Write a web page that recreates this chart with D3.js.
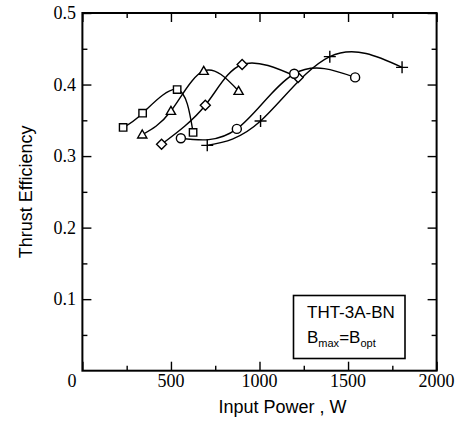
<!DOCTYPE html>
<html>
<head>
<meta charset="utf-8">
<script src="https://cdn.jsdelivr.net/npm/d3@7"></script>
<style>
html,body{margin:0;padding:0;background:#fff;}
svg{display:block;}
.serif{font-family:"Liberation Serif","Times New Roman",serif;}
.sans{font-family:"Liberation Sans",Arial,Helvetica,sans-serif;}
</style>
</head>
<body>
<script>
// ---- data ----
const squareP = [230, 340, 535, 625];
const squareEff = [0.340, 0.360, 0.393, 0.333];
const triangleP = [338, 500, 685, 882];
const triangleEff = [0.330, 0.363, 0.419, 0.391];
const diamondP = [447, 694, 902, 1218];
const diamondEff = [0.3165, 0.371, 0.428, 0.410];
const circleP = [556, 872, 1196, 1540];
const circleEff = [0.325, 0.338, 0.415, 0.410];
const crossP = [705, 1006, 1397, 1805];
const crossEff = [0.315, 0.349, 0.439, 0.424];

const xTicks = [0, 500, 1000, 1500, 2000];
const xMinor = [250, 750, 1250, 1750];
const yTicks = [0.1, 0.2, 0.3, 0.4, 0.5];
const yMinor = [0.05, 0.15, 0.25, 0.35, 0.45];

const W = 459, H = 430;
const L = 82.4, R = 436.6, T = 13, B = 370.7;

const svg = d3.select("body").append("svg").attr("width", W).attr("height", H);
const x = d3.scaleLinear().domain([0, 2000]).range([L, R]);
const y = d3.scaleLinear().domain([0, 0.5]).range([B, T]);

// axes with inward ticks
const gAx = svg.append("g");
function inward(axisFn, scale, vals, len, transform) {
  const g = gAx.append("g").attr("transform", transform)
    .call(axisFn(scale).tickValues(vals).tickSize(len).tickFormat(""));
  g.select(".domain").remove();
  g.selectAll("line").attr("stroke", "#000").attr("stroke-width", 1.4);
}
inward(d3.axisTop, x, xTicks, 9, `translate(0,${B})`);
inward(d3.axisTop, x, xMinor, 5, `translate(0,${B})`);
inward(d3.axisBottom, x, xTicks, 9, `translate(0,${T})`);
inward(d3.axisBottom, x, xMinor, 5, `translate(0,${T})`);
inward(d3.axisRight, y, yTicks, 9, `translate(${L},0)`);
inward(d3.axisRight, y, yMinor, 5, `translate(${L},0)`);
inward(d3.axisLeft, y, yTicks, 9, `translate(${R},0)`);
inward(d3.axisLeft, y, yMinor, 5, `translate(${R},0)`);

svg.append("rect").attr("x", L).attr("y", T).attr("width", R - L).attr("height", B - T)
  .attr("fill", "none").attr("stroke", "#000").attr("stroke-width", 2);

// tick labels
svg.append("g").attr("class", "serif").selectAll("text").data(xTicks.filter(d => d > 0)).join("text")
  .attr("x", d => x(d)).attr("y", 387).attr("text-anchor", "middle")
  .attr("font-size", 18).text(d => d);
svg.append("g").attr("class", "serif").selectAll("text").data(yTicks).join("text")
  .attr("x", 76).attr("y", d => y(d) + 6).attr("text-anchor", "end")
  .attr("font-size", 18).text(d => d3.format(".1f")(d));
svg.append("text").attr("class", "serif").attr("x", 72).attr("y", 387).attr("text-anchor", "middle")
  .attr("font-size", 18).text("0");

// axis titles
svg.append("text").attr("class", "sans").attr("x", 282.5).attr("y", 412.5).attr("text-anchor", "middle")
  .attr("font-size", 18).text("Input Power , W");
svg.append("text").attr("class", "sans").attr("transform", `translate(32,${(T + B) / 2}) rotate(-90)`)
  .attr("text-anchor", "middle").attr("font-size", 18)
  .text("Thrust Efficiency");

// curves
const series = [
  {p: squareP, e: squareEff, m: "square"},
  {p: triangleP, e: triangleEff, m: "triangle"},
  {p: diamondP, e: diamondEff, m: "diamond"},
  {p: circleP, e: circleEff, m: "circle"},
  {p: crossP, e: crossEff, m: "cross"}
];
const line = d3.line().x(d => x(d[0])).y(d => y(d[1])).curve(d3.curveNatural);
const gC = svg.append("g");
series.forEach(s => {
  const pts = s.p.map((v, i) => [v, s.e[i]]);
  gC.append("path").attr("d", line(pts)).attr("fill", "none")
    .attr("stroke", "#000").attr("stroke-width", 1.4);
});

// markers
const gM = svg.append("g");
series.forEach(s => {
  s.p.forEach((v, i) => {
    const cx = x(v), cy = y(s.e[i]);
    let d;
    if (s.m === "square") {
      d = `M${cx - 3.7},${cy - 3.7}h7.4v7.4h-7.4Z`;
    } else if (s.m === "triangle") {
      d = `M${cx},${cy - 4.6}L${cx + 4.6},${cy + 3.4}L${cx - 4.6},${cy + 3.4}Z`;
    } else if (s.m === "diamond") {
      d = `M${cx},${cy - 5}L${cx + 5},${cy}L${cx},${cy + 5}L${cx - 5},${cy}Z`;
    } else if (s.m === "circle") {
      d = d3.symbol().type(d3.symbolCircle).size(64)();
    } else {
      d = `M${cx - 6},${cy}H${cx + 6}M${cx},${cy - 6}V${cy + 6}`;
    }
    const p = gM.append("path").attr("d", d).attr("stroke", "#000").attr("stroke-width", 1.4);
    if (s.m === "circle") p.attr("transform", `translate(${cx},${cy})`);
    p.attr("fill", s.m === "cross" ? "none" : "#fff");
  });
});

// legend box
svg.append("rect").attr("x", 293.5).attr("y", 295.5).attr("width", 111.5).attr("height", 63)
  .attr("fill", "#fff").attr("stroke", "#000").attr("stroke-width", 1.6);
svg.append("text").attr("class", "sans").attr("x", 307).attr("y", 318).attr("font-size", 17)
  .text("THT-3A-BN");
const t2 = svg.append("text").attr("class", "sans").attr("x", 307).attr("y", 343).attr("font-size", 17);
t2.append("tspan").text("B");
t2.append("tspan").attr("font-size", 11).attr("dy", 4).text("max");
t2.append("tspan").attr("dy", -4).text("=B");
t2.append("tspan").attr("font-size", 11).attr("dy", 4).text("opt");
</script>
</body>
</html>
